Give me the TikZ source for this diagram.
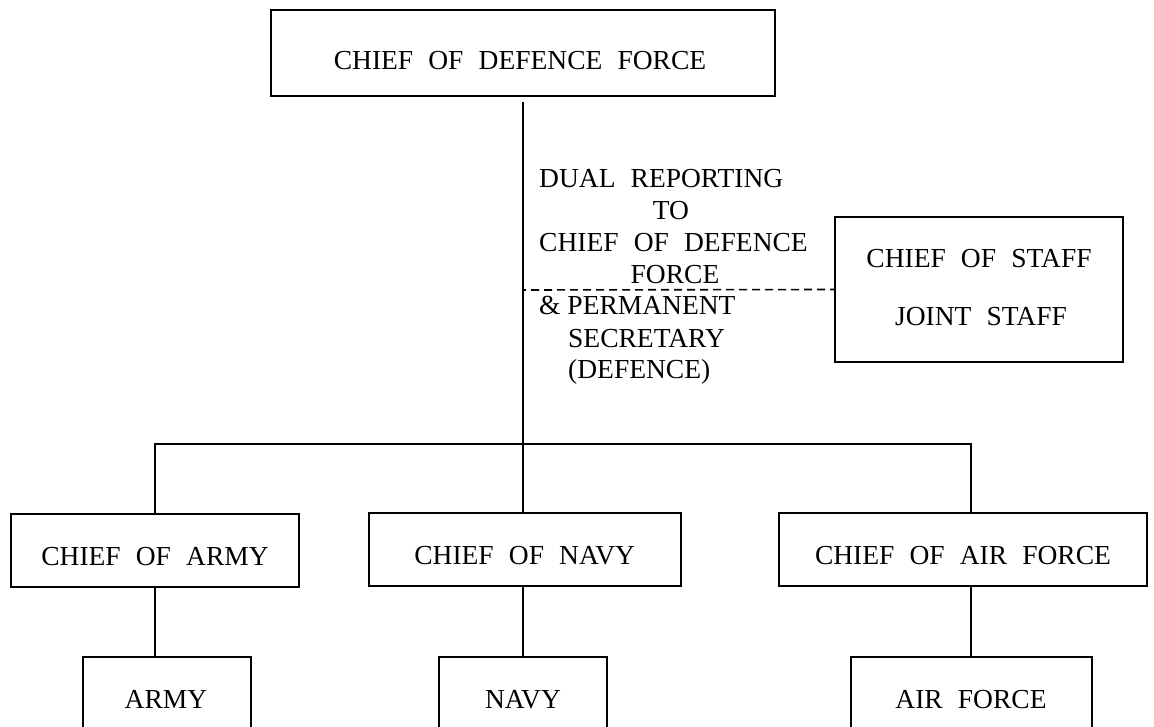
\documentclass[tikz,border=0pt]{standalone}
\usepackage{fontspec}
\setmainfont{Liberation Serif}
\newcommand{\wsp}{\hspace{0.55em}}
\begin{document}
\begin{tikzpicture}[x=1pt,y=-1pt,
  box/.style={draw,line width=1.6pt,rectangle,inner sep=0pt},
  lbl/.style={inner sep=0pt,anchor=base,font=\fontsize{27.5}{32}\selectfont},
  conn/.style={line width=1.6pt},
  dashln/.style={line width=1.6pt,dash pattern=on 8pt off 5pt,dash phase=5pt}]
\useasboundingbox (0,0) rectangle (1154,727);
\clip (0,0) rectangle (1154,727);

% boxes
\node[box,line width=2.6pt,minimum width=504pt,minimum height=86pt] (cdf) at (523,53) {};
\node[box,minimum width=288pt,minimum height=145pt] (staff) at (979,289.5) {};
\node[box,minimum width=288.5pt,minimum height=73pt] (carmy) at (155,550.5) {};
\node[box,minimum width=312pt,minimum height=73pt] (cnavy) at (525,549.5) {};
\node[box,minimum width=368pt,minimum height=73pt] (cair) at (963,549.5) {};
\node[box,minimum width=168pt,minimum height=103pt] (army) at (167,708.5) {};
\node[box,minimum width=168pt,minimum height=103pt] (navy) at (523,708.5) {};
\node[box,minimum width=241pt,minimum height=103pt] (air) at (971.5,708.5) {};

% box texts
\node[lbl] (tcdf) at (520,70) {CHIEF\wsp OF\wsp DEFENCE\wsp FORCE};
\node[lbl] (tstaff1) at (979,268) {CHIEF\wsp OF\wsp STAFF};
\node[lbl] (tstaff2) at (981,326) {JOINT\wsp STAFF};
\node[lbl] (tcarmy) at (155,565) {CHIEF\wsp OF\wsp ARMY};
\node[lbl] (tcnavy) at (524.7,564) {CHIEF\wsp OF\wsp NAVY};
\node[lbl] (tcair) at (963,564) {CHIEF\wsp OF\wsp AIR\wsp FORCE};
\node[lbl] (tarmy) at (166,708) {ARMY};
\node[lbl] (tnavy) at (523,708) {NAVY};
\node[lbl] (tair) at (971,708) {AIR\wsp FORCE};

% dual reporting text
\node[lbl,anchor=base west] (d1) at (539,188) {DUAL\wsp REPORTING};
\node[lbl] (d2) at (671,220) {TO};
\node[lbl,anchor=base west] (d3) at (539,252) {CHIEF\wsp OF\wsp DEFENCE};
\node[lbl] (d4) at (675,284) {FORCE};
\node[lbl,anchor=base west] (d5) at (539,315) {\& PERMANENT};
\node[lbl,anchor=base west] (d6) at (568,348) {SECRETARY};
\node[lbl,anchor=base west] (d7) at (568,378) {(DEFENCE)};

% connectors
\coordinate (jl) at (155,444);
\coordinate (jr) at (971,444);
\coordinate (dl) at (523,290);
\draw[conn,shorten <=5pt] (cdf.south) -- (cdf.south |- cnavy.north);
\draw[conn] (jl |- carmy.north) -- (jl) -- (jr) -- (jr |- cair.north);
\draw[conn] (carmy.south -| jl) -- (jl |- army.north);
\draw[conn] (cnavy.south -| cdf.south) -- (cdf.south |- navy.north);
\draw[conn] (cair.south -| jr) -- (jr |- air.north);
\draw[dashln] (dl) -- (staff.west);
\end{tikzpicture}
\end{document}
